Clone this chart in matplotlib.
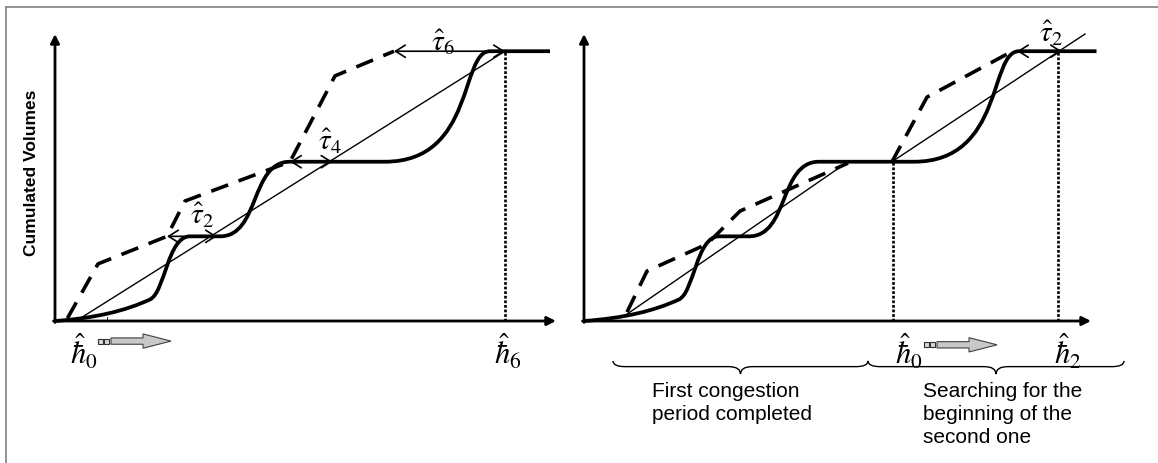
import matplotlib.pyplot as plt
from matplotlib.path import Path
from matplotlib.patches import PathPatch, FancyArrow, Rectangle
from matplotlib.lines import Line2D

plt.rcParams['font.family'] = ['Liberation Sans', 'DejaVu Sans']
plt.rcParams['mathtext.fontset'] = 'stix'
plt.rcParams['lines.scale_dashes'] = False

# observed cumulated volumes, bezier vertices (time, volume), same in both panels
curve_t = [0, 8, 14, 19, 22, 22.5, 27, 33, 41, 39, 47, 66, 84, 81, 87]
curve_v = [0, 1, 3.5, 7.5, 10, 29.5, 29.5, 29.5, 29.5, 55.5, 55.5, 55.5, 55.5, 94, 94]
curve_codes = ([Path.MOVETO] + [Path.CURVE4] * 6 + [Path.LINETO]
               + [Path.CURVE4] * 3 + [Path.LINETO] + [Path.CURVE4] * 3)
top_volume = 94
curve_end_left = 99
curve_end_right = 102.5

# left panel: shifted cumulative (dashed) and straight reference line
left_dash_t = [2.5, 8.6, 22.4, 26, 47, 56, 67.8]
left_dash_v = [1, 19.9, 29.5, 41.8, 55.5, 85.4, 94]
left_line_t = [4.2, 90]
left_line_v = [0, 94]
left_tau_from = [22.4, 47, 67.8]
left_tau_to = [32.4, 55.5, 90]
left_tau_v = [29.5, 55.5, 94]
left_tau_labels = [r'$\hat{\tau}_2$', r'$\hat{\tau}_4$', r'$\hat{\tau}_6$']
left_tau_label_t = [29.4, 55, 77.6]
left_tau_label_v = [37.0, 63.0, 97.4]
left_marks_t = [90]
left_marks_top = [94]
left_h_labels = [r'$\hat{\hbar}_0$', r'$\hat{\hbar}_6$']
left_h_t = [5.8, 90.6]

# right panel: first period done, search restarted at the plateau
right_dash1_t = [8.6, 12.6, 24.6, 31.2, 52.8]
right_dash1_v = [3.1, 17.4, 26.8, 38.3, 55.0]
right_dash2_t = [61.6, 68.6, 84.6]
right_dash2_v = [55.5, 78, 93]
right_line1_t = [8.6, 52.8]
right_line1_v = [2.4, 55.5]
right_line2_t = [61.6, 100.2]
right_line2_v = [55.5, 100]
right_tau_from = [86.6]
right_tau_to = [95.6]
right_tau_v = [94]
right_tau_labels = [r'$\hat{\tau}_2$']
right_tau_label_t = [93.4]
right_tau_label_v = [100.5]
right_marks_t = [61.8, 94.8]
right_marks_top = [55.5, 94]
right_h_labels = [r'$\hat{\hbar}_0$', r'$\hat{\hbar}_2$']
right_h_t = [65, 96.8]

brace_from = [5.8, 56.8]
brace_to = [56.8, 108]
brace_texts = ['First congestion\nperiod completed',
               'Searching for the\nbeginning of the\nsecond one']
brace_text_t = [13.6, 67.8]

fig = plt.figure(figsize=(11.58, 4.64), dpi=100)
W, H = 1158, 464
ax_l = fig.add_axes([55 / W, (H - 322) / H, 500 / W, 287 / H])
ax_r = fig.add_axes([584 / W, (H - 322) / H, 500 / W, 287 / H])

# outer frame (top and left edges only)
fig.add_artist(Line2D([6 / W, 1], [1 - 8 / H, 1 - 8 / H], color='#808080', lw=1.2))
fig.add_artist(Line2D([6 / W, 6 / W], [0, 1 - 8 / H], color='#808080', lw=1.2))


def draw_frame(ax, x_end):
    head = dict(arrowstyle='-|>', lw=2.0, color='k', mutation_scale=13,
                shrinkA=0, shrinkB=0)
    ax.annotate('', xy=(0, 100), xytext=(0, -0.5), arrowprops=head, annotation_clip=False)
    ax.annotate('', xy=(x_end, 0), xytext=(-0.3, 0), arrowprops=head, annotation_clip=False)


def draw_curve(ax, end):
    verts = list(zip(curve_t, curve_v)) + [(end, top_volume)]
    codes = curve_codes + [Path.LINETO]
    ax.add_patch(PathPatch(Path(verts, codes), fill=False, lw=2.7, ec='k',
                           capstyle='butt', clip_on=False))


def draw_dashed(ax, t, v):
    ax.plot(t, v, color='k', lw=2.6, dashes=(13, 8), dash_capstyle='butt',
            clip_on=False)


def draw_taus(ax, t0, t1, v, labels, lt, lv):
    for a, b, y in zip(t0, t1, v):
        ax.annotate('', xy=(b, y), xytext=(a, y),
                    arrowprops=dict(arrowstyle='<->,head_length=0.35,head_width=0.22',
                                    lw=1.2, color='k', mutation_scale=20,
                                    shrinkA=0, shrinkB=0),
                    annotation_clip=False)
    for s, x, y in zip(labels, lt, lv):
        ax.text(x, y, s, fontsize=21, ha='center', va='center')


def draw_marks(ax, xs, tops):
    for x, top in zip(xs, tops):
        ax.plot([x, x], [0, top], color='k', lw=1.9, dashes=(2, 1.3), clip_on=False)


def draw_h_labels(ax, labels, xs):
    for s, x in zip(labels, xs):
        ax.text(x, -10.5, s, fontsize=22, ha='center', va='center')


def draw_shift(ax, x0, y):
    # two small blocks followed by a grey block arrow
    for k in range(2):
        ax.add_patch(Rectangle((x0 - 2.6 + k * 1.25, y - 0.9), 0.95, 1.8,
                               fc='#d8d8d8', ec='#303030', lw=0.8, clip_on=False))
    ax.add_patch(FancyArrow(x0, y, 12, 0, width=2.2, head_width=5.0, head_length=5.6,
                            length_includes_head=True, fc='#c8c8c8', ec='#404040',
                            lw=0.8, clip_on=False))


def draw_brace(ax, x0, x1, y0=-13.9, y1=-15.9, y2=-18.5, r=2.4):
    xm = (x0 + x1) / 2
    verts = [(x0, y0), (x0, y1), (x0 + r, y1), (xm - r, y1), (xm, y1), (xm, y2),
             (xm, y1), (xm + r, y1), (x1 - r, y1), (x1, y1), (x1, y0)]
    codes = [Path.MOVETO, Path.CURVE3, Path.CURVE3, Path.LINETO, Path.CURVE3, Path.CURVE3,
             Path.CURVE3, Path.CURVE3, Path.LINETO, Path.CURVE3, Path.CURVE3]
    ax.add_patch(PathPatch(Path(verts, codes), fill=False, lw=1.0, ec='k', clip_on=False))


# left panel
draw_frame(ax_l, 100.2)
draw_curve(ax_l, curve_end_left)
draw_dashed(ax_l, left_dash_t, left_dash_v)
ax_l.plot(left_line_t, left_line_v, color='k', lw=1.0, clip_on=False)
draw_taus(ax_l, left_tau_from, left_tau_to, left_tau_v,
          left_tau_labels, left_tau_label_t, left_tau_label_v)
draw_marks(ax_l, left_marks_t, left_marks_top)
draw_h_labels(ax_l, left_h_labels, left_h_t)
draw_shift(ax_l, 11.2, -7.0)
ax_l.plot([10.4, 10.4], [0, 1.5], color='k', lw=0.6)
ax_l.text(-4.6, 51.9, 'Cumulated Volumes', rotation=90, fontsize=12.5,
          fontweight='bold', ha='center', va='center')

# right panel
draw_frame(ax_r, 101.4)
draw_curve(ax_r, curve_end_right)
draw_dashed(ax_r, right_dash1_t, right_dash1_v)
draw_dashed(ax_r, right_dash2_t, right_dash2_v)
ax_r.plot(right_line1_t, right_line1_v, color='k', lw=1.0, clip_on=False)
ax_r.plot(right_line2_t, right_line2_v, color='k', lw=1.0, clip_on=False)
draw_taus(ax_r, right_tau_from, right_tau_to, right_tau_v,
          right_tau_labels, right_tau_label_t, right_tau_label_v)
draw_marks(ax_r, right_marks_t, right_marks_top)
draw_h_labels(ax_r, right_h_labels, right_h_t)
draw_shift(ax_r, 70.6, -8.3)
for a, b, s, x in zip(brace_from, brace_to, brace_texts, brace_text_t):
    draw_brace(ax_r, a, b)
    ax_r.text(x, -21.0, s, fontsize=15, ha='left', va='top', linespacing=1.25)

for ax in (ax_l, ax_r):
    ax.set_xlim(0, 100)
    ax.set_ylim(0, 100)
    ax.axis('off')

fig.savefig('out.png', dpi=100)
